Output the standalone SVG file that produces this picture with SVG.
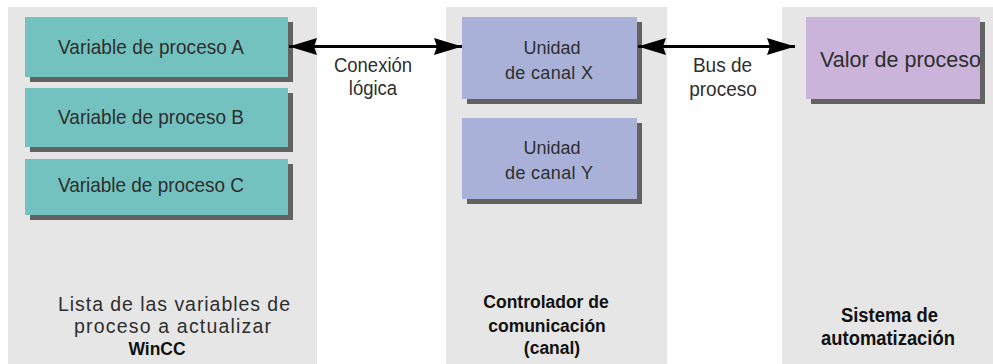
<svg xmlns="http://www.w3.org/2000/svg" width="993" height="364" viewBox="0 0 993 364">
<style>
.panel{fill:#e6e6e6}
.shadow{fill:#626262}
.teal{fill:#74c2c0}
.blue{fill:#a9b1d9}
.purple{fill:#cab4d9}
.t{font-family:"Liberation Sans",Arial,sans-serif;fill:#2e2e2e;text-anchor:middle}
.b{font-family:"Liberation Sans",Arial,sans-serif;font-weight:bold;fill:#111;text-anchor:middle}
.conn{stroke:#000;stroke-width:3;fill:none}
</style>
<defs>
<marker id="ah" markerUnits="userSpaceOnUse" markerWidth="30" markerHeight="18" refX="28" refY="9" orient="auto-start-reverse" viewBox="0 0 30 18">
<path d="M0,0.5 L28,9 L0,17.5 L3,9 z" fill="#000"/>
</marker>
</defs>
<rect class="panel" x="8" y="7" width="309" height="357"/>
<rect class="panel" x="446" y="7" width="221" height="357"/>
<rect class="panel" x="782" y="7" width="211" height="357"/>

<g id="varA">
<rect class="shadow" x="30" y="22" width="263" height="60"/>
<rect class="teal" x="25" y="17" width="263" height="60"/>
<text class="t" transform="translate(151,54) scale(1,1.1)" font-size="19" textLength="186" lengthAdjust="spacing">Variable de proceso A</text>
</g>
<g id="varB">
<rect class="shadow" x="30" y="93" width="263" height="59"/>
<rect class="teal" x="25" y="88" width="263" height="59"/>
<text class="t" transform="translate(151,124) scale(1,1.1)" font-size="19" textLength="186" lengthAdjust="spacing">Variable de proceso B</text>
</g>
<g id="varC">
<rect class="shadow" x="30" y="164" width="263" height="56"/>
<rect class="teal" x="25" y="159" width="263" height="56"/>
<text class="t" transform="translate(151,192) scale(1,1.1)" font-size="19" textLength="186" lengthAdjust="spacing">Variable de proceso C</text>
</g>
<g id="canalX">
<rect class="shadow" x="467" y="22" width="175" height="82"/>
<rect class="blue" x="462" y="17" width="175" height="82"/>
<text class="t" transform="translate(552,54) scale(1,1.05)" font-size="18">Unidad</text>
<text class="t" transform="translate(549,79) scale(1,1.05)" font-size="18" textLength="88" lengthAdjust="spacing">de canal X</text>
</g>
<g id="canalY">
<rect class="shadow" x="467" y="123" width="175" height="81"/>
<rect class="blue" x="462" y="118" width="175" height="81"/>
<text class="t" transform="translate(552,154) scale(1,1.05)" font-size="18">Unidad</text>
<text class="t" transform="translate(549,179) scale(1,1.05)" font-size="18" textLength="88" lengthAdjust="spacing">de canal Y</text>
</g>
<g id="valor">
<rect class="shadow" x="811" y="22" width="174" height="82"/>
<rect class="purple" x="806" y="17" width="174" height="82"/>
<text class="t" x="900.5" y="67" font-size="21.5">Valor de proceso</text>
</g>

<g id="connectors">
<line class="conn" x1="289" y1="46.5" x2="462" y2="46.5" marker-start="url(#ah)" marker-end="url(#ah)"/>
<line class="conn" x1="638" y1="46.5" x2="795" y2="46.5" marker-start="url(#ah)" marker-end="url(#ah)"/>
<text class="t" transform="translate(373,72) scale(1,1.05)" font-size="18.5">Conexión</text>
<text class="t" transform="translate(373,95) scale(1,1.05)" font-size="18.5">lógica</text>
<text class="t" transform="translate(722.5,72) scale(1,1.05)" font-size="19">Bus de</text>
<text class="t" transform="translate(723,96) scale(1,1.05)" font-size="19">proceso</text>
</g>

<g id="labels">
<text class="t" transform="translate(174,311) scale(1,1.05)" font-size="19.5" textLength="232" lengthAdjust="spacing">Lista de las variables de</text>
<text class="t" transform="translate(172.5,333) scale(1,1.05)" font-size="19.5" textLength="197" lengthAdjust="spacing">proceso a actualizar</text>
<text class="b" transform="translate(157,355) scale(1,1.1)" font-size="17.5">WinCC</text>
<text class="b" transform="translate(546,308) scale(1,1.1)" font-size="17.5">Controlador de</text>
<text class="b" transform="translate(547,332) scale(1,1.1)" font-size="17.5">comunicación</text>
<text class="b" transform="translate(552,354) scale(1,1.1)" font-size="17.5">(canal)</text>
<text class="b" transform="translate(889.5,322) scale(1,1.1)" font-size="18.4">Sistema de</text>
<text class="b" transform="translate(888,345) scale(1,1.1)" font-size="18.4">automatización</text>
</g>
</svg>
